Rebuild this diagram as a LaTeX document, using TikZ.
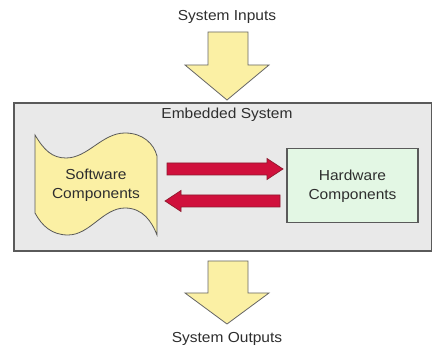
\documentclass[tikz,border=0pt]{standalone}
\usepackage{fontspec}
\setmainfont{Liberation Sans}
\definecolor{frame}{HTML}{5A5A5A}
\definecolor{panel}{HTML}{E9E9E9}
\definecolor{pale}{HTML}{FBF0A4}
\definecolor{mint}{HTML}{E3F7E4}
\definecolor{crimson}{HTML}{D0103C}
\definecolor{crimsonedge}{HTML}{8E1A2E}
\definecolor{ink}{HTML}{2E2E2E}
\newcommand\wideline[1]{\scalebox{1.07}[1]{#1}}
\begin{document}
\begin{tikzpicture}[x=1pt,y=-1pt,
  txt/.style={font=\fontsize{14.5}{19}\selectfont, text=ink, align=center, inner sep=0pt},
  blockarrow/.style={fill=pale, draw=gray!80!black, line width=0.8pt, line join=miter},
  flowarrow/.style={fill=crimson, draw=crimsonedge, line width=0.7pt, line join=miter},
  boxframe/.style={draw=frame, line width=1.6pt}]
\useasboundingbox (0,0) rectangle (432,347);
\fill[white] (0,0) rectangle (432,347);

% outer system panel
\node[boxframe, fill=panel, minimum width=418pt, minimum height=148pt, anchor=north west, inner sep=0pt] (sys) at (13,102) {};
\node[txt] (systitle) at (227,115) {\wideline{Embedded System}};

% system inputs / outputs with their block arrows
\node[txt] (inputs) at (227,17) {\wideline{System Inputs}};
\node[txt] (outputs) at (227,339) {\wideline{System Outputs}};
\draw[blockarrow] (208,32) -- (248,32) -- (248,65) -- (269,65) -- (227,100)
  -- (185,65) -- (208,65) -- cycle;
\draw[blockarrow] (208,261) -- (248,261) -- (248,293) -- (269,293) -- (227,324)
  -- (185,293) -- (208,293) -- cycle;

% software components: wavy tape shape
\draw[fill=pale, draw=gray!70!black, line width=0.8pt]
  (35,135) .. controls (44,150) and (52,158) .. (66,158)
  .. controls (88,158) and (102,133) .. (125,133)
  .. controls (143,133) and (154,144) .. (157,156)
  -- (157,235)
  .. controls (152,222) and (143,208) .. (125,208)
  .. controls (103,208) and (90,235) .. (68,235)
  .. controls (52,235) and (42,226) .. (35,213) -- cycle;
\node[txt] (sw) at (96,185) {\wideline{Software}\\\wideline{Components}};

% hardware components box
\node[draw=frame, line width=1.2pt, fill=mint, minimum width=131pt, minimum height=74pt, inner sep=0pt] (hwbox) at (352.5,185.5) {};
\node[txt] (hw) at (352.5,186) {\wideline{Hardware}\\\wideline{Components}};

% data flow between software and hardware
\coordinate (fwdstart) at (167,169);
\coordinate (fwdend) at (283,169);
\coordinate (backstart) at (280,201);
\coordinate (backend) at (165,201);
\draw[flowarrow] (167,163) -- (267,163) -- (267,158.5) -- (283,169) -- (267,179.5)
  -- (267,175) -- (167,175) -- cycle;
\draw[flowarrow] (280,195) -- (181,195) -- (181,190.5) -- (165,201) -- (181,211.5)
  -- (181,207) -- (280,207) -- cycle;
\end{tikzpicture}
\end{document}
